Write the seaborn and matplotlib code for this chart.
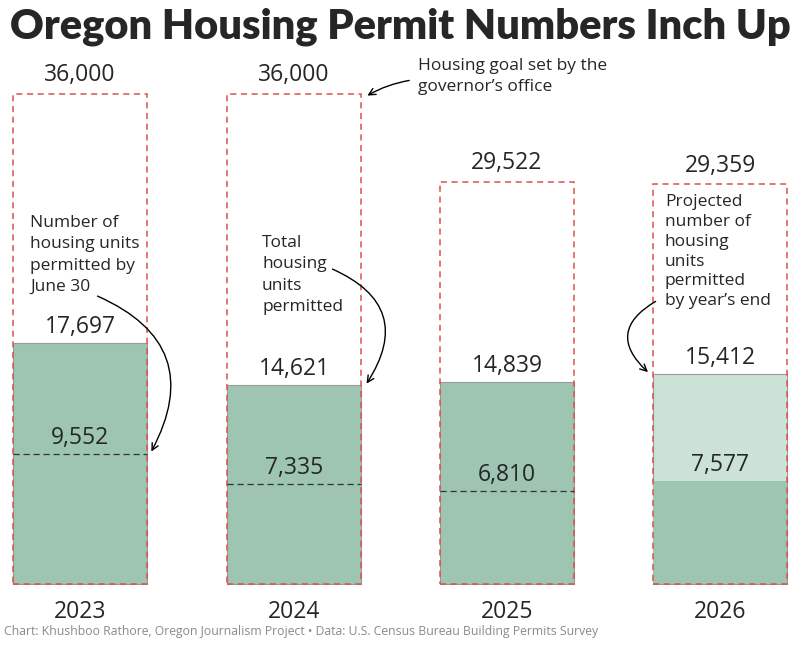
import matplotlib.pyplot as plt
import seaborn as sns
import pandas as pd
from matplotlib.patches import Rectangle

years = ['2023', '2024', '2025', '2026']
goals = [36000, 36000, 29522, 29359]
permitted = [17697, 14621, 14839, 15412]
midyear = [9552, 7335, 6810, 7577]
projected = [False, False, False, True]

sns.set_theme(style='white')
plt.rcParams['font.family'] = ['Open Sans', 'DejaVu Sans']

fig = plt.figure(figsize=(8, 6.45), dpi=100)
ax = fig.add_axes([0, 0, 1, 1])
centers = [80, 294, 507, 720]
bw = 134
px = 0.01361  # pixels per unit value
ax.set_xlim(0, 800)
ax.set_ylim(-61 / px, 584 / px)
ax.axis('off')

df = pd.DataFrame({'x': centers, 'val': permitted,
                   'kind': ['proj' if p else 'act' for p in projected]})
sns.barplot(data=df, x='x', y='val', hue='kind', native_scale=True,
            palette={'act': '#9ec5b2', 'proj': '#cde2d6'}, width=bw / 213.3,
            saturation=1, dodge=False, legend=False, edgecolor='#9a9a9a',
            linewidth=0.8, ax=ax)

for c, g, p, m, pr in zip(centers, goals, permitted, midyear, projected):
    ax.add_patch(Rectangle((c - bw / 2, 0), bw, g, fill=False, ec='#d9534f',
                           ls=(0, (4, 3)), lw=1.1, zorder=3))
    if pr:
        ax.add_patch(Rectangle((c - bw / 2, 0), bw, m, fc='#9ec5b2', ec='none', zorder=2))
    else:
        ax.plot([c - bw / 2, c + bw / 2], [m, m], color='#333333', ls=(0, (5, 3)), lw=0.9, zorder=3)
    ax.text(c, g + 500, f'{g:,}', ha='center', va='bottom', fontsize=16.5)
    ax.text(c, p + 300, f'{p:,}', ha='center', va='bottom', fontsize=16.5)
    ax.text(c, m + 300, f'{m:,}', ha='center', va='bottom', fontsize=16.5)

for c, y in zip(centers, years):
    ax.text(c, -1200, y, ha='center', va='top', fontsize=16.5)

fig.text(0.012, 0.958, 'Oregon Housing Permit Numbers Inch Up', fontsize=30,
         fontweight='heavy', family=['Lato', 'DejaVu Sans'], va='center')
fig.text(0.005, 0.015, 'Chart: Khushboo Rathore, Oregon Journalism Project \u2022 Data: U.S. Census Bureau Building Permits Survey',
         fontsize=8.8, color='#8a8a8a')

def yv(pix):
    return (584 - pix) / px

ax.text(30, yv(215), 'Number of\nhousing units\npermitted by\nJune 30', fontsize=12.5,
        va='top', linespacing=1.45)
ax.annotate('', xy=(150, yv(454)), xytext=(95, yv(295)),
            arrowprops=dict(arrowstyle='->', color='black', lw=1,
                            connectionstyle='arc3,rad=-0.55'))
ax.text(262, yv(235), 'Total\nhousing\nunits\npermitted', fontsize=12.5,
        va='top', linespacing=1.45)
ax.annotate('', xy=(365, yv(386)), xytext=(330, yv(268)),
            arrowprops=dict(arrowstyle='->', color='black', lw=1,
                            connectionstyle='arc3,rad=-0.6'))
ax.text(418, yv(58), 'Housing goal set by the\ngovernor\u2019s office', fontsize=12.5,
        va='top', linespacing=1.4)
ax.annotate('', xy=(365, yv(97)), xytext=(412, yv(80)),
            arrowprops=dict(arrowstyle='->', color='black', lw=1,
                            connectionstyle='arc3,rad=0.1'))
ax.text(665, yv(194), 'Projected\nnumber of\nhousing\nunits\npermitted\nby year\u2019s end',
        fontsize=12.5, va='top', linespacing=1.32)
ax.annotate('', xy=(650, yv(374)), xytext=(658, yv(300)),
            arrowprops=dict(arrowstyle='->', color='black', lw=1,
                            connectionstyle='arc3,rad=0.7'))

fig.savefig('out.png', dpi=100)
